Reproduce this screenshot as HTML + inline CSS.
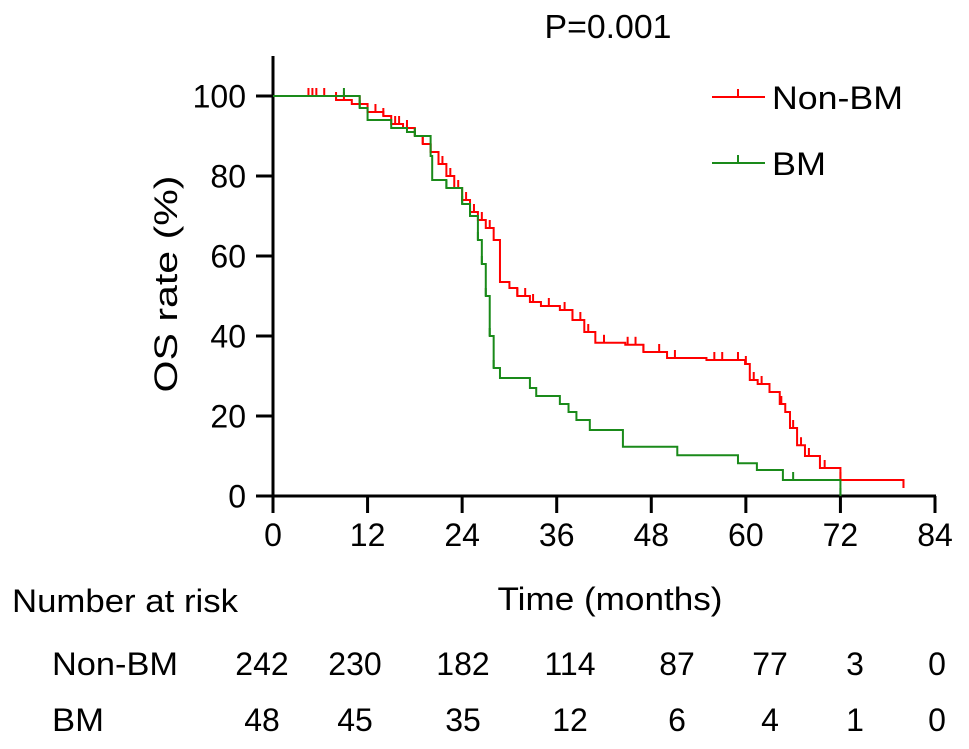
<!DOCTYPE html>
<html><head><meta charset="utf-8"><style>
body{margin:0;background:#fff;}
svg{display:block;font-family:"Liberation Sans",Arial,sans-serif;}
</style></head><body>
<svg id="chart" width="969" height="749" viewBox="0 0 969 749">
<text x="608" y="38" font-size="33" text-anchor="middle" textLength="127" lengthAdjust="spacingAndGlyphs">P=0.001</text>
<text transform="translate(177,284) rotate(-90)" font-size="32" text-anchor="middle" textLength="217" lengthAdjust="spacingAndGlyphs">OS rate (%)</text>
<text x="610" y="610" font-size="32" text-anchor="middle" textLength="225" lengthAdjust="spacingAndGlyphs">Time (months)</text>
<g id="axes"></g>
<g id="series"></g>
<g>
<g>
<line x1="712" y1="97" x2="765" y2="97" stroke="#ff0000" stroke-width="2"/><line x1="738" y1="97" x2="738" y2="89" stroke="#ff0000" stroke-width="2"/>
<text x="772" y="109" font-size="32" textLength="131" lengthAdjust="spacingAndGlyphs">Non-BM</text></g>
<g>
<line x1="712" y1="163" x2="765" y2="163" stroke="#1a8a1a" stroke-width="2"/><line x1="738" y1="163" x2="738" y2="155" stroke="#1a8a1a" stroke-width="2"/>
<text x="772" y="175" font-size="32" textLength="54" lengthAdjust="spacingAndGlyphs">BM</text></g>
</g>
<g id="risk">
<text x="12" y="612" font-size="32" textLength="226" lengthAdjust="spacingAndGlyphs">Number at risk</text>
<text x="52" y="675" font-size="32" textLength="126" lengthAdjust="spacingAndGlyphs">Non-BM</text>
<text x="52" y="731" font-size="32" textLength="52" lengthAdjust="spacingAndGlyphs">BM</text>
</g>
</svg>
<script>
const xTicks=[0,12,24,36,48,60,72,84];
const yTicks=[0,20,40,60,80,100];
// Non-BM step curve [time, survival%]
const nonBmT=[0,4.5,8,10,12,14,15,16.5,18,19,20,21,22,23,24,25,26,27,28,28.8,30,31,32.6,34,36.4,38,39.5,40.9,44.7,47,50,55,59.9,60.5,61.5,63,64.3,65,65.6,66.5,67.5,69.4,72,75,80];
const nonBmS=[100,100,99,98,96,95,93,92,90,88,86,83,80,77,74,71,69,67,64,53.5,52,50,48.5,47.5,46.5,44,41,38.3,37.8,36,34.5,34,33,29,28,26,23,21,17,12.7,10,7,4,4,2];
const nonBmEnd=[80,4];
const nonBmCensT=[4.5,5,5.5,6.5,8,9,11,13,14,15.5,16,17,18,19,20,21.5,22.5,23.5,24.5,25.5,26.5,27.5,31,32,33,35,37,38,39,40,42,45,46,47,49,51,56,57,59,60,61,62,63,64.5,66,67,68,70,72,80];
// BM step curve
const bmT=[0,10,11,12,15,17,18,20,20.2,22,24,25,26,26.5,27,27.5,28,28.8,32.6,33.4,36.4,37.5,38.5,40.2,44.4,51.3,59,61.4,64.7,72];
const bmS=[100,100,97,94,92,91,90,85,79,77,73,70,64,58,50,40,32,29.5,27,25,23,21,19,16.5,12.3,10.2,8.2,6.5,4,0];
const bmCensT=[9,11,18,22,24,25,26,26.5,27,27.5,28,66,72];
// Risk table
const riskNonBm=[242,230,182,114,87,77,3,0];
const riskBm=[48,45,35,12,6,4,1,0];
const riskX=[262,355,463,570,677,770,855,937];

const NS="http://www.w3.org/2000/svg";
const xs=t=>273+t*(662/84);
const ys=s=>496-s*4;
function mk(tag,attrs,parent){const e=document.createElementNS(NS,tag);for(const k in attrs)e.setAttribute(k,attrs[k]);parent.appendChild(e);return e;}
const axes=document.getElementById('axes');
let l=mk('line',{x1:273,y1:56,x2:273,y2:497,stroke:'#000','stroke-width':3},axes);


l=mk('line',{x1:256,y1:496,x2:936,y2:496,stroke:'#000','stroke-width':3},axes);


xTicks.forEach(v=>{const x=xs(v);
mk('line',{x1:x,y1:496,x2:x,y2:513,stroke:'#000','stroke-width':3},axes);
const t=mk('text',{x:x,y:546,'font-size':32,'text-anchor':'middle'},axes);t.textContent=v;

});
yTicks.forEach(v=>{const y=ys(v);
mk('line',{x1:256,y1:y,x2:273,y2:y,stroke:'#000','stroke-width':3},axes);
const t=mk('text',{x:246,y:y+11.5,'font-size':32,'text-anchor':'end'},axes);t.textContent=v;

});
const ser=document.getElementById('series');
function stepVal(T,S,t){let v=S[0];for(let i=0;i<T.length;i++){if(T[i]<=t)v=S[i];}return v;}
function draw(T,S,cens,color,name,extra){
 let d='M'+xs(T[0])+','+ys(S[0]);
 for(let i=1;i<T.length;i++){d+=' H'+xs(T[i])+' V'+ys(S[i]);}
 if(extra)d+=' H'+xs(extra[0])+' V'+ys(extra[1]);
 const p=mk('path',{d:d,fill:'none',stroke:color,'stroke-width':2},ser);
 
 
 cens.forEach(t=>{const y=ys(stepVal(T,S,t));const c=mk('line',{x1:xs(t),y1:y,x2:xs(t),y2:y-8,stroke:color,'stroke-width':2},ser);
 
 });
}
draw(nonBmT,nonBmS,nonBmCensT,'#ff0000','non-bm',nonBmEnd);
draw(bmT,bmS,bmCensT,'#1a8a1a','bm',null);
const risk=document.getElementById('risk');
riskNonBm.forEach((v,i)=>{const t=mk('text',{x:riskX[i],y:675,'font-size':32,'text-anchor':'middle'},risk);t.textContent=v;

});
riskBm.forEach((v,i)=>{const t=mk('text',{x:riskX[i],y:731,'font-size':32,'text-anchor':'middle'},risk);t.textContent=v;

});
</script>
</body></html>
